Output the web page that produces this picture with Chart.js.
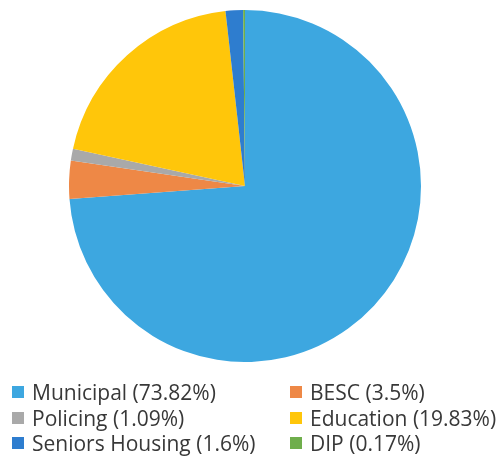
<!DOCTYPE html>
<html>
<head>
<meta charset="utf-8">
<script src="https://cdn.jsdelivr.net/npm/chart.js@4"></script>
<style>
  html, body { margin: 0; padding: 0; background: #ffffff; }
  body { width: 502px; height: 460px; position: relative; overflow: hidden; }
  #wrap { position: absolute; left: 69px; top: 10px; width: 352px; height: 352px; }
  #legend { position: absolute; left: 0; top: 0; width: 502px; height: 460px; pointer-events: none; }
  .item { position: absolute; display: flex; align-items: center; font-family: "Open Sans", "Noto Sans", sans-serif; font-size: 21px; color: #383838; white-space: nowrap; }
  .box { width: 12px; height: 12px; margin-right: 8px; flex: none; }
</style>
</head>
<body>
<div id="wrap"><canvas id="c"></canvas></div>
<div id="legend"></div>
<script>
const categories = ["Municipal", "BESC", "Policing", "Education", "Seniors Housing", "DIP"];
const values = [73.82, 3.5, 1.09, 19.83, 1.6, 0.17];
const labelTexts = ["Municipal (73.82%)", "BESC (3.5%)", "Policing (1.09%)", "Education (19.83%)", "Seniors Housing (1.6%)", "DIP (0.17%)"];
const colors = ["#3DA7E0", "#EE8846", "#A9A9A9", "#FFC60A", "#2E7DCF", "#6FAE4C"];

new Chart(document.getElementById("c"), {
  type: "pie",
  data: {
    labels: categories,
    datasets: [{ data: values, backgroundColor: colors, borderWidth: 0 }]
  },
  options: {
    responsive: true,
    maintainAspectRatio: false,
    animation: false,
    layout: { padding: 0 },
    plugins: { legend: { display: false }, tooltip: { enabled: false } }
  }
});

// legend: two columns, order as in the reference
const legendOrder = [0, 1, 2, 3, 4, 5];
const colX = [12, 290];
const rowY = [392, 417.5, 443];
const legend = document.getElementById("legend");
legendOrder.forEach((idx, k) => {
  const col = k % 2, row = Math.floor(k / 2);
  const el = document.createElement("div");
  el.className = "item";
  el.style.left = colX[col] + "px";
  el.style.top = (rowY[row] - 14) + "px";
  el.style.height = "28px";
  const b = document.createElement("span");
  b.className = "box";
  b.style.background = colors[idx];
  const t = document.createElement("span");
  t.textContent = labelTexts[idx];
  el.appendChild(b); el.appendChild(t);
  legend.appendChild(el);
});
</script>
</body>
</html>
